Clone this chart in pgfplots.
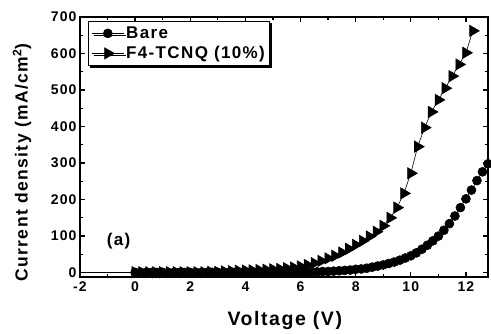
\documentclass[border=0pt]{standalone}
\usepackage{fontspec}
\setmainfont{Liberation Sans}
\newfontfamily\spaced[LetterSpace=8]{Liberation Sans}
\usepackage{pgfplots}
\pgfplotsset{compat=1.18}
\usetikzlibrary{shadows}
\newcommand\tickf{\fontsize{14}{16}\spaced\bfseries}
\newcommand\xlabf{\fontsize{19.5}{22}\spaced\bfseries}
\newcommand\ylabf{\fontsize{17.5}{20}\spaced\bfseries}
\newcommand\legf{\fontsize{17}{19}\spaced\bfseries}
\begin{document}
\begin{tikzpicture}
\begin{axis}[
  scale only axis, width=408pt, height=260pt,
  xmin=-2, xmax=12.8, ymin=-12, ymax=700,
  xtick={-2,0,...,12}, ytick={0,100,...,700},
  minor x tick num=1, minor y tick num=1,
  tick align=inside,
  major tick length=5pt, minor tick length=3pt,
  every tick/.style={black, line width=1.3pt},
  axis line style={line width=1.8pt},
  /pgf/number format/assume math mode=true,
  ticklabel style={font=\tickf},
  xticklabel style={yshift=-1pt},
  xlabel={Voltage (V)},
  ylabel={Current density (mA/cm\textsuperscript{2})},
  xlabel style={font=\xlabf, at={(axis description cs:0.502,-0.169)}, anchor=center},
  ylabel style={font=\ylabf, at={(axis description cs:-0.142,0.44)}, anchor=center},
  legend style={at={(0.02,0.985)}, anchor=north west, font=\legf,
    draw=black, line width=0.8pt, fill=white,
    drop shadow={shadow xshift=1.8pt, shadow yshift=-1.8pt, fill=black, opacity=1},
    inner xsep=3pt, inner ysep=3.5pt, row sep=2.5pt},
  legend cell align=left,
  legend image code/.code={\draw[mark repeat=2,mark phase=2,#1] plot coordinates {(0pt,0pt) (16pt,0pt) (32pt,0pt)};},
]
\addplot[black, line width=0.6pt, mark=*, mark size=4.5pt, mark options={fill=black}] coordinates {
(0,0.5)(0.2,0.5)(0.4,0.5)(0.6,0.5)(0.8,0.5)(1,0.5)(1.2,0.5)(1.4,0.5)(1.6,0.5)(1.8,0.5)
(2,0.5)(2.2,0.5)(2.4,0.5)(2.6,0.5)(2.8,0.5)(3,0.5)(3.2,0.5)(3.4,0.5)(3.6,0.5)(3.8,0.5)
(4,0.5)(4.2,0.5)(4.4,0.5)(4.6,0.5)(4.8,0.5)(5,0.5)(5.2,1)(5.4,1)(5.6,1)(5.8,1)
(6,1)(6.2,1.5)(6.4,2)(6.6,2)(6.8,3)(7,3)(7.2,4)(7.4,5)(7.6,6)(7.8,7)
(8,9)(8.2,10)(8.4,12)(8.6,15)(8.8,18)(9,21)(9.2,25)(9.4,29)(9.6,34)(9.8,40)
(10,46)(10.2,54)(10.4,64)(10.6,75)(10.8,87)(11,100)(11.2,116)(11.4,134)(11.6,155)(11.8,178)
(12,202)(12.2,226)(12.4,252)(12.6,276)(12.8,298)
};
\addlegendentry{Bare}
\addplot[black, line width=0.6pt, mark=triangle*, mark size=6.5pt, mark options={fill=black, rotate=-90}] coordinates {
(0,1)(0.25,1)(0.5,1)(0.75,1)(1,1)(1.25,1)(1.5,1)(1.75,1)(2,1)(2.25,1)
(2.5,1)(2.75,2)(3,2)(3.25,3)(3.5,4)(3.75,5)(4,6)(4.25,6)(4.5,7)(4.75,8)
(5,9)(5.25,10)(5.5,12)(5.75,14)(6,17)(6.25,21)(6.5,26)(6.75,32)(7,39)(7.25,46)
(7.5,55)(7.75,65)(8,76)(8.25,87)(8.5,99)(8.75,112)(9,128)(9.25,150)(9.5,178)(9.75,217)
(10,272)(10.25,345)(10.5,397)(10.75,440)(11,473)(11.25,505)(11.5,538)(11.75,570)(12,602)(12.25,662)
};
\addlegendentry{F4-TCNQ (10\%)}
\addplot[black, line width=1.2pt, forget plot] coordinates {(-2,0)(0,0)};
\node[font=\xlabf\fontsize{17}{20}\selectfont] at (axis cs:-0.6,87) {(a)};
\end{axis}
\pgfresetboundingbox
\path[use as bounding box] (-80pt,-57pt) rectangle (411pt,277pt);
\end{tikzpicture}
\end{document}
